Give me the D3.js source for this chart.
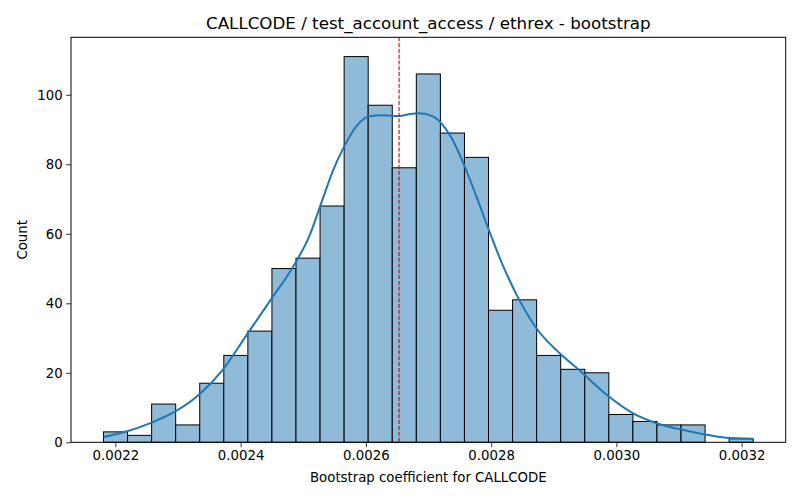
<!DOCTYPE html>
<html>
<head>
<meta charset="utf-8">
<script src="https://cdn.jsdelivr.net/npm/d3@7"></script>
<style>
  body { margin: 0; background: #fff; }
  text { font-family: "DejaVu Sans", sans-serif; }
</style>
</head>
<body>
<svg id="chart" width="800" height="500"></svg>
<script>
// ---- data ----
const binStart = 0.002181;
const binEnd = 0.0032185;
const counts = [3, 2, 11, 5, 17, 25, 32, 50, 53, 68, 111, 97, 79, 106, 89, 82, 38, 41, 25, 21, 20, 8, 6, 5, 5, 0, 1];
const kdeX = [0.002181, 0.0022, 0.002219, 0.002257, 0.002295, 0.002333, 0.002372, 0.00241, 0.002448, 0.002482,
  0.00251, 0.002531, 0.002547, 0.002563, 0.002585, 0.002606, 0.002626, 0.002654, 0.002669, 0.002685,
  0.002707, 0.002722, 0.002738, 0.002754, 0.002776, 0.002797, 0.002818, 0.002842, 0.002872, 0.002909,
  0.00294, 0.002985, 0.003026, 0.003064, 0.0031, 0.003137, 0.003175, 0.0032185];
const kdeY = [1.5, 2.3, 3.2, 5.6, 8.8, 13.6, 21, 31, 41, 50,
  59.5, 70, 78, 84.3, 91, 93.8, 94.1, 93.9, 94.4, 94.7,
  93.8, 91.5, 87.2, 81, 71, 60.8, 51.2, 42, 32.9, 25.7,
  20.9, 13.6, 8.4, 5.5, 3.8, 2.4, 1.3, 1.0];
const meanValue = 0.002653;
const xTicks = [0.0022, 0.0024, 0.0026, 0.0028, 0.0030, 0.0032];
const yTicks = [0, 20, 40, 60, 80, 100];
const titleText = "CALLCODE / test_account_access / ethrex - bootstrap";
const xLabel = "Bootstrap coefficient for CALLCODE";
const yLabel = "Count";

// ---- layout ----
const L = 71, R = 785.7, T = 37.3, B = 442.3;
const svg = d3.select("#chart");

const binW = (binEnd - binStart) / counts.length;
const bins = counts.map((c, i) => ({ x0: binStart + i * binW, x1: binStart + (i + 1) * binW, c }));

const pad = (binEnd - binStart) * 0.05;
const x = d3.scaleLinear().domain([binStart - pad, binEnd + pad]).range([L, R]);
const y = d3.scaleLinear().domain([0, d3.max(counts) * 1.05]).range([B, T]);

// bars
svg.append("g").selectAll("rect").data(bins.filter(b => b.c > 0)).join("rect")
  .attr("x", d => x(d.x0))
  .attr("y", d => y(d.c))
  .attr("width", d => x(d.x1) - x(d.x0))
  .attr("height", d => y(0) - y(d.c))
  .attr("fill", "#8fbbd9")
  .attr("stroke", "#000")
  .attr("stroke-width", 1);

// kde
const kde = kdeX.map((v, i) => [v, kdeY[i]]);
svg.append("path")
  .datum(kde)
  .attr("fill", "none")
  .attr("stroke", "#1f77b4")
  .attr("stroke-width", 2)
  .attr("d", d3.line().x(d => x(d[0])).y(d => y(d[1])).curve(d3.curveMonotoneX));

// mean line
svg.append("line")
  .attr("x1", x(meanValue)).attr("x2", x(meanValue))
  .attr("y1", T).attr("y2", B)
  .attr("stroke", "#d40000")
  .attr("stroke-width", 1.1)
  .attr("stroke-dasharray", "4,1.8");

// axes
const xAxis = d3.axisBottom(x).tickValues(xTicks).tickFormat(d3.format(".4f")).tickSize(4.9).tickPadding(3.5);
const yAxis = d3.axisLeft(y).tickValues(yTicks).tickSize(4.9).tickPadding(3.5);

const gx = svg.append("g").attr("transform", `translate(0,${B})`).call(xAxis);
const gy = svg.append("g").attr("transform", `translate(${L},0)`).call(yAxis);
[gx, gy].forEach(g => {
  g.select(".domain").remove();
  g.selectAll("line").attr("stroke", "#000").attr("stroke-width", 0.8);
  g.selectAll("text").attr("fill", "#000").style("font-size", "13.3px").style("font-family", "DejaVu Sans");
});

// frame
svg.append("rect")
  .attr("x", L).attr("y", T).attr("width", R - L).attr("height", B - T)
  .attr("fill", "none").attr("stroke", "#000").attr("stroke-width", 1);

// labels
svg.append("text").attr("x", (L + R) / 2).attr("y", 29)
  .attr("text-anchor", "middle").style("font-size", "16.7px").text(titleText);
svg.append("text").attr("x", (L + R) / 2).attr("y", 482)
  .attr("text-anchor", "middle").style("font-size", "13.3px").text(xLabel);
svg.append("text").attr("transform", `translate(27,${(T + B) / 2}) rotate(-90)`)
  .attr("text-anchor", "middle").style("font-size", "13.3px").text(yLabel);
</script>
</body>
</html>
